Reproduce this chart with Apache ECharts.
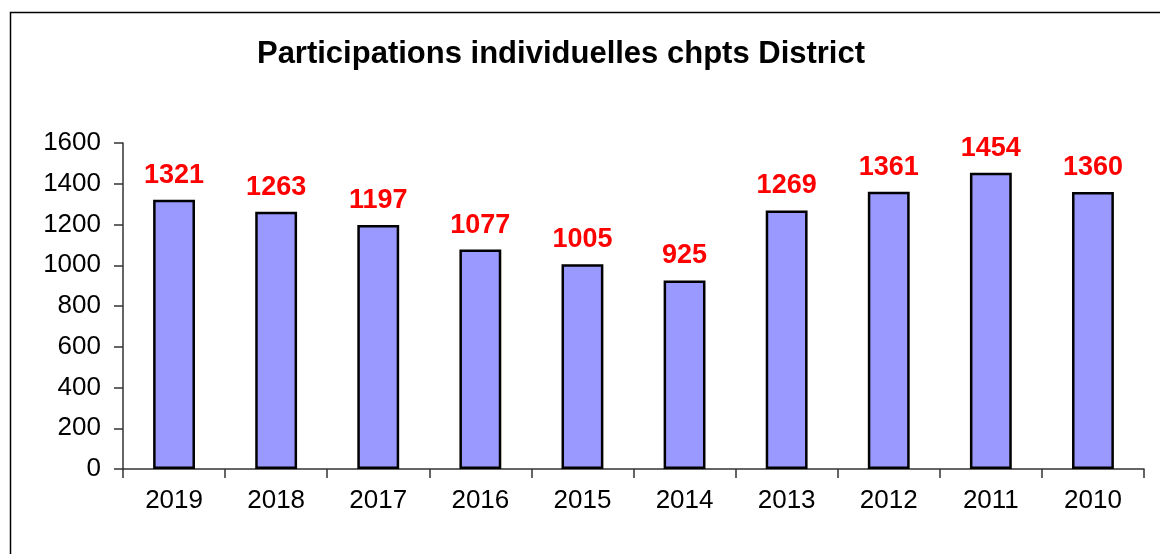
<!DOCTYPE html>
<html>
<head>
<meta charset="utf-8">
<script src="https://cdn.jsdelivr.net/npm/echarts@6/dist/echarts.min.js"></script>
<style>
html, body { margin: 0; padding: 0; background: #fff; }
#chart { width: 1160px; height: 554px; }
</style>
</head>
<body>
<div id="chart"></div>
<script>
var years = ['2019', '2018', '2017', '2016', '2015', '2014', '2013', '2012', '2011', '2010'];
var participations = [1321, 1263, 1197, 1077, 1005, 925, 1269, 1361, 1454, 1360];
var yTicks = [0, 200, 400, 600, 800, 1000, 1200, 1400, 1600];

var font = '"Liberation Sans", Arial, sans-serif';
var chart = echarts.init(document.getElementById('chart'));
var option = {
	animation: false,
	graphic: [{
		type: 'rect',
		left: 8,
		top: 10,
		shape: { width: 1200, height: 600 },
		style: { fill: 'none', stroke: '#000', lineWidth: 1.5 }
	}],
	title: {
		text: 'Participations individuelles chpts District',
		left: 556,
		top: 34,
		textAlign: 'center',
		textStyle: { fontFamily: font, fontSize: 31, fontWeight: 'bold', color: '#000' }
	},
	grid: {
		left: 123,
		right: 16,
		top: 143,
		bottom: 85
	},
	xAxis: {
		type: 'category',
		data: years,
		axisLine: { lineStyle: { color: '#333', width: 1.5 } },
		axisTick: { show: true, length: 9, alignWithLabel: false, lineStyle: { color: '#333', width: 1.5 } },
		axisLabel: { fontFamily: font, fontSize: 26, color: '#000', margin: 19 }
	},
	yAxis: {
		type: 'value',
		min: yTicks[0],
		max: yTicks[yTicks.length - 1],
		interval: 200,
		splitLine: { show: false },
		axisLine: { show: true, lineStyle: { color: '#333', width: 1.5 } },
		axisTick: { show: true, length: 9, lineStyle: { color: '#333', width: 1.5 } },
		axisLabel: {
			fontFamily: font, fontSize: 26, color: '#000', margin: 22,
			formatter: function (v) { return String(v); }
		}
	},
	series: [{
		type: 'bar',
		data: participations,
		barWidth: '41%',
		itemStyle: { color: '#9999ff', borderColor: '#000', borderWidth: 2.5 },
		label: {
			show: true,
			position: 'top',
			distance: 11,
			fontFamily: font,
			fontSize: 27,
			fontWeight: 'bold',
			color: '#ff0000'
		}
	}]
};
chart.setOption(option);
</script>
</body>
</html>
